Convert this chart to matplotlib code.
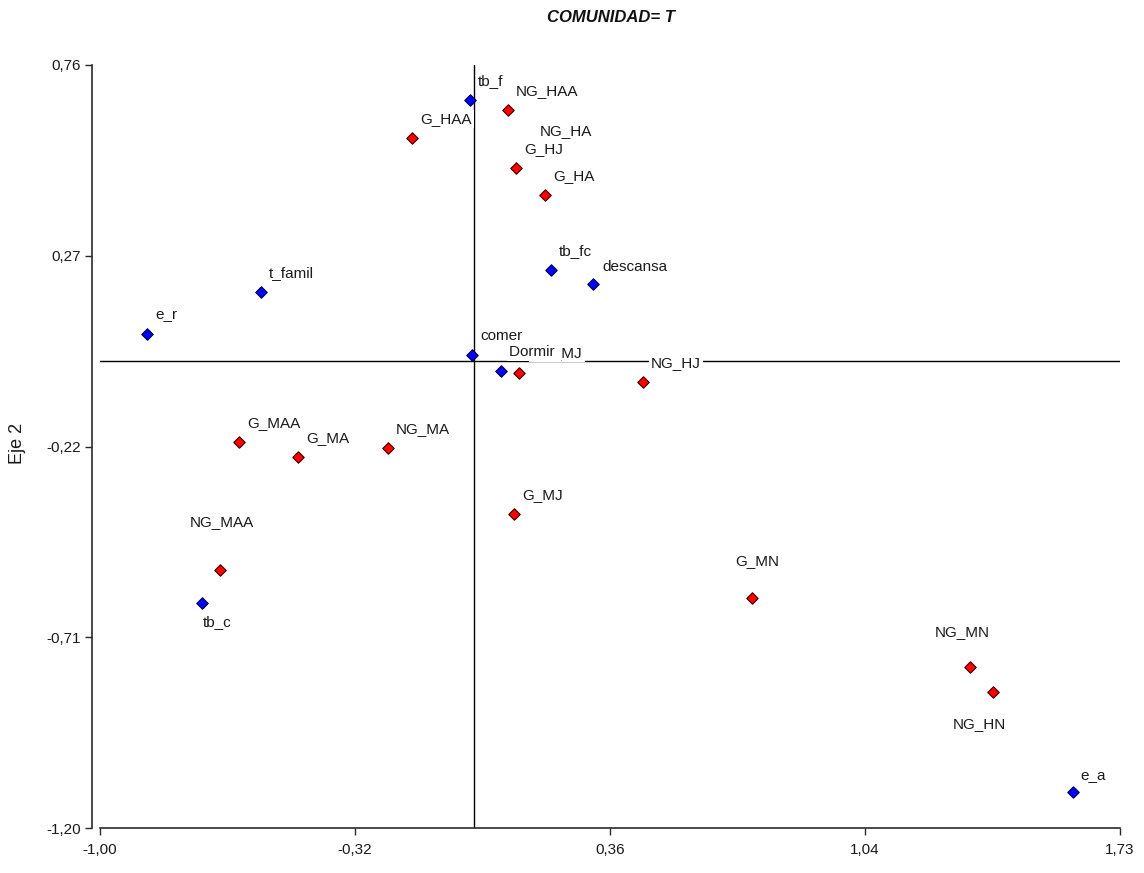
import numpy as np
import matplotlib
matplotlib.use("Agg")
import matplotlib.pyplot as plt

plt.rcParams['font.family'] = ['Liberation Sans', 'DejaVu Sans']

# --- data ---
red_labels = ["G_HAA", "NG_HAA", "NG_HA", "G_HJ", "G_HA", "NG_MJ", "NG_HJ",
              "G_MAA", "G_MA", "NG_MA", "G_MJ", "NG_MAA", "G_MN", "NG_MN", "NG_HN"]
red_x = [-0.165, 0.092, 0.156, 0.113, 0.191, 0.122, 0.453,
         -0.628, -0.470, -0.229, 0.108, -0.679, 0.745, 1.329, 1.390]
red_y = [0.572, 0.644, 0.542, 0.495, 0.426, -0.031, -0.054,
         -0.208, -0.247, -0.224, -0.393, -0.537, -0.609, -0.786, -0.851]

blue_labels = ["tb_f", "t_famil", "e_r", "comer", "tb_fc", "descansa",
               "Dormir", "tb_c", "e_a"]
blue_x = [-0.010, -0.569, -0.874, -0.004, 0.207, 0.320, 0.073, -0.727, 1.604]
blue_y = [0.670, 0.177, 0.069, 0.015, 0.233, 0.197, -0.026, -0.622, -1.107]

x_ticks = [-1.00, -0.3175, 0.365, 1.0475, 1.73]
x_ticklabels = ["-1,00", "-0,32", "0,36", "1,04", "1,73"]
y_ticks = [0.76, 0.27, -0.22, -0.71, -1.20]
y_ticklabels = ["0,76", "0,27", "-0,22", "-0,71", "-1,20"]

title = "COMUNIDAD= T"
ylabel = "Eje 2"
xlabel = "Eje 1"

# label offsets in pixels (default +8, +19)
special_offsets = {
    "tb_c": (1, -19),
    "NG_MAA": (-30, 48),
    "NG_HN": (-40, -32),
    "NG_MN": (-35, 35),
    "G_MN": (-17, 37),
    "e_a": (7, 17),
    "descansa": (9, 17),
    "NG_MJ": (12, 20),
}
default_offset = (8, 19)
# extra right-side white padding (trailing space) for labels drawn over others
trailing_pad = {"Dormir": " "}

# --- figure ---
W, H = 1144, 873
fig = plt.figure(figsize=(W / 100, H / 100), dpi=100)
ax = fig.add_axes([100 / W, (H - 828) / H, 1020 / W, 763 / H])
ax.set_xlim(-1.00, 1.73)
ax.set_ylim(-1.20, 0.76)

ax.axhline(0, color='black', lw=1.0, zorder=1)
ax.axvline(0, color='black', lw=1.0, zorder=1)

ax.scatter(red_x, red_y, marker='D', s=34, facecolor='#ff0000',
           edgecolor='#3a0000', linewidth=0.8, zorder=3, clip_on=False)
ax.scatter(blue_x, blue_y, marker='D', s=34, facecolor='#0000ff',
           edgecolor='#000040', linewidth=0.8, zorder=3, clip_on=False)

z = 4
for labs, xs, ys in ((red_labels, red_x, red_y), (blue_labels, blue_x, blue_y)):
    for lab, xv, yv in zip(labs, xs, ys):
        off = special_offsets.get(lab, default_offset)
        ax.annotate(lab + trailing_pad.get(lab, ""), (xv, yv), xytext=off,
                    textcoords='offset pixels',
                    ha='left', va='center', fontsize=11, color='#1a1a1a',
                    bbox=dict(facecolor='white', edgecolor='none', pad=1.5),
                    zorder=z)
        z += 0.01

for s in ('top', 'right'):
    ax.spines[s].set_visible(False)
ax.spines['left'].set_position(('outward', 6))
ax.spines['left'].set_bounds(-1.20, 0.76)
for s in ('left', 'bottom'):
    ax.spines[s].set_color('#2a2a2a')
    ax.spines[s].set_linewidth(1.2)

ax.set_xticks(x_ticks)
ax.set_xticklabels(x_ticklabels)
ax.set_yticks(y_ticks)
ax.set_yticklabels(y_ticklabels)
ax.tick_params(axis='both', direction='out', length=5, width=1.0,
               color='#2a2a2a', labelsize=11, labelcolor='#1a1a1a')
ax.tick_params(axis='x', pad=6)
ax.tick_params(axis='y', pad=3)

fig.text(611 / W, 1 - 18 / H, title, ha='center', va='center',
         fontsize=12, fontweight='bold', fontstyle='italic', color='#111111')
fig.text(18 / W, 1 - 443 / H, ylabel, ha='center', va='center',
         rotation=90, fontsize=13, color='#1a1a1a')
fig.text(610 / W, 1 - 876 / H, xlabel, ha='center', va='top',
         fontsize=13, color='#1a1a1a')

fig.savefig("out.png", dpi=100)
